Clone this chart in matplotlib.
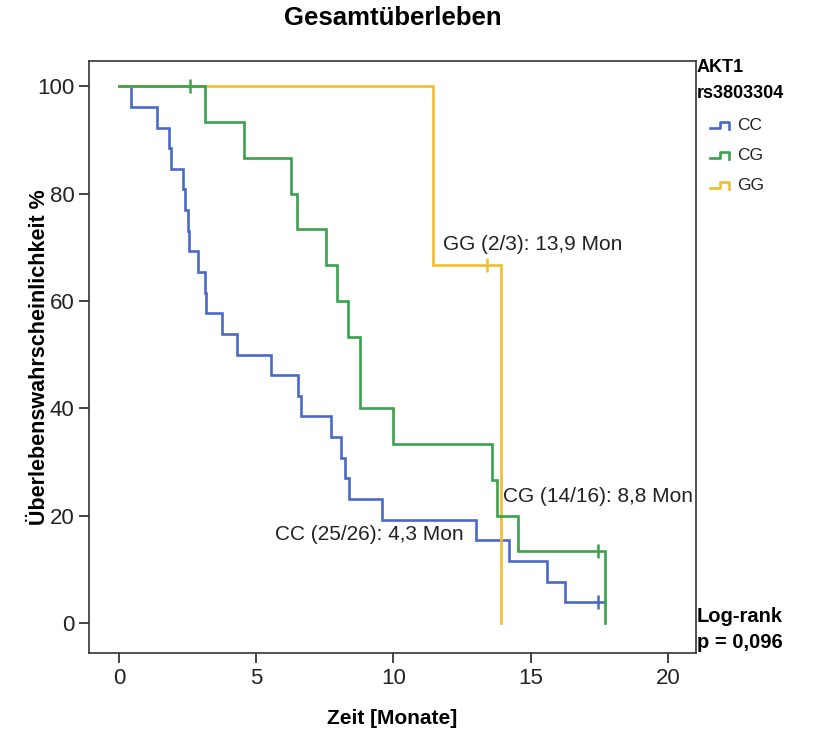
import matplotlib
matplotlib.use("Agg")
import matplotlib.pyplot as plt
from matplotlib.lines import Line2D

plt.rcParams["font.family"] = ["Liberation Sans", "DejaVu Sans"]

# Event and censoring times (months) per AKT1 rs3803304 genotype
cc_events = [0.43, 1.37, 1.83, 1.91, 2.34, 2.42, 2.50, 2.55, 2.87, 3.13, 3.17,
             3.76, 4.3, 5.55, 6.52, 6.64, 7.72, 8.08, 8.23, 8.39, 9.6, 13.0,
             14.21, 15.58, 16.25]
cc_censored = [17.45]
cc_end = 17.7

cg_events = [3.13, 4.54, 6.27, 6.5, 7.53, 7.94, 8.33, 8.8, 8.8, 10.0, 13.6,
             13.76, 14.55, 17.7]
cg_censored = [2.59, 17.45]
cg_end = 17.7

gg_events = [11.44, 13.9]
gg_censored = [13.4]
gg_end = 13.9

genotypes = ["CC", "CG", "GG"]
colors = {"CC": "#4a68c9", "CG": "#3aa14c", "GG": "#f0bd2c"}

median_labels = ["CC (25/26): 4,3 Mon", "CG (14/16): 8,8 Mon", "GG (2/3): 13,9 Mon"]
label_pos = [(5.68, 16.4), (13.99, 23.5), (11.8, 70.6)]

xticks = [0, 5, 10, 15, 20]
yticks = [0, 20, 40, 60, 80, 100]


def kaplan_meier(events, censored, end):
    """Step coordinates of the survival curve plus censor mark positions."""
    obs = sorted([(t, 1) for t in events] + [(t, 0) for t in censored])
    n = len(obs)
    s = 100.0
    xs, ys = [0.0], [100.0]
    cx, cy = [], []
    i = 0
    while i < len(obs):
        t = obs[i][0]
        d = sum(1 for o in obs if o[0] == t and o[1] == 1)
        c = sum(1 for o in obs if o[0] == t and o[1] == 0)
        if d:
            xs += [t, t]
            ys += [s, s * (n - d) / n]
            s = s * (n - d) / n
        if c:
            cx.append(t)
            cy.append(s)
        n -= d + c
        i += d + c
    xs.append(max(end, xs[-1]))
    ys.append(s)
    return xs, ys, cx, cy


fig = plt.figure(figsize=(8.14, 7.34), dpi=100)
ax = fig.add_axes([0.1093, 0.1104, 0.7457, 0.8065])

curves = {
    "CC": kaplan_meier(cc_events, cc_censored, cc_end),
    "GG": kaplan_meier(gg_events, gg_censored, gg_end),
    "CG": kaplan_meier(cg_events, cg_censored, cg_end),
}
for g, (xs, ys, cx, cy) in curves.items():
    ax.plot(xs, ys, color=colors[g], lw=1.9, solid_joinstyle="miter")
    ax.plot(cx, cy, ls="none", marker="|", ms=10, mew=1.8, color=colors[g])

for text, (tx, ty) in zip(median_labels, label_pos):
    ax.text(tx, ty, text, fontsize=15, color="#222222", ha="left", va="center")

ax.set_xlim(-1.09, 21.02)
ax.set_ylim(-5.6, 104.7)
ax.set_xticks(xticks)
ax.set_yticks(yticks)
ax.tick_params(direction="out", length=7, width=1.2, labelsize=16,
               labelcolor="#222222", color="#222222", top=False, right=False)
for sp in ax.spines.values():
    sp.set_linewidth(1.2)
    sp.set_color("#333333")

ax.set_xlabel("Zeit [Monate]", fontsize=15, fontweight="bold", va="center")
ax.xaxis.set_label_coords(0.5, -0.11)
ax.set_ylabel("Überlebenswahrscheinlichkeit %", fontsize=15.5, fontweight="bold",
              va="center")
ax.yaxis.set_label_coords(-0.081, 0.5)

fig.text(392.5 / 814, 1 - 18 / 734, "Gesamtüberleben", fontsize=18.5,
         fontweight="bold", ha="center", va="center")

# Legend: genotype header and step-shaped keys
fig.text(697 / 814, 1 - 68 / 734, "AKT1", fontsize=13, fontweight="bold",
         ha="left", va="center")
fig.text(697 / 814, 1 - 94 / 734, "rs3803304", fontsize=13, fontweight="bold",
         ha="left", va="center")
for k, g in enumerate(genotypes):
    y0 = 128 + 30 * k
    px = [710, 720, 720, 729, 729]
    py = [y0, y0, y0 - 6, y0 - 6, y0 + 1]
    fig.add_artist(Line2D([p / 814 for p in px], [1 - p / 734 for p in py],
                          transform=fig.transFigure, color=colors[g], lw=1.9))
    fig.text(737 / 814, 1 - (y0 - 3) / 734, g, fontsize=12.5, ha="left",
             va="center", color="#222222")

fig.text(697 / 814, 1 - 617 / 734, "Log-rank", fontsize=14.5, fontweight="bold",
         ha="left", va="center")
fig.text(697 / 814, 1 - 643 / 734, "p = 0,096", fontsize=14.5, fontweight="bold",
         ha="left", va="center")

fig.savefig("out.png", dpi=100)
